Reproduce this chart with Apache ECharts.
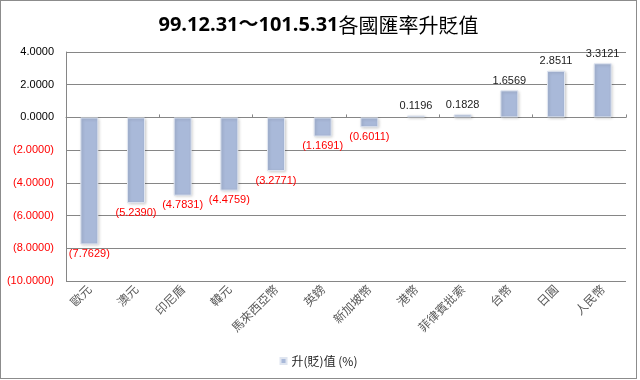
<!DOCTYPE html>
<html>
<head>
<meta charset="utf-8">
<script src="https://cdn.jsdelivr.net/npm/echarts@6/dist/echarts.min.js"></script>
<style>
html,body{margin:0;padding:0;background:#fff;}
#frame{position:absolute;left:0;top:0;width:637px;height:379px;border:1px solid #8c8c8c;box-sizing:border-box;}
#chart{width:635px;height:377px;}
</style>
</head>
<body>
<div id="frame"><div id="chart"></div></div>
<script>
const titleDates = '99.12.31～101.5.31';
const titleWords = '各國匯率升貶值';
const categories = ['歐元','澳元','印尼盾','韓元','馬來西亞幣','英鎊','新加坡幣','港幣','菲律賓批索','台幣','日圓','人民幣'];
const values = [-7.7629,-5.2390,-4.7831,-4.4759,-3.2771,-1.1691,-0.6011,0.1196,0.1828,1.6569,2.8511,3.3121];
const seriesName = '升(貶)值 (%)';
const yMin = -10, yMax = 4, yStep = 2;

function fmt(v){
  const s = Math.abs(v).toFixed(4);
  return v < 0 ? '(' + s + ')' : s;
}
const FONT = '"Liberation Sans","Noto Sans CJK TC",sans-serif';
const CJK = '"Noto Sans CJK TC",sans-serif';
const chart = echarts.init(document.getElementById('chart'));
chart.setOption({
  animation:false,
  textStyle:{fontFamily:FONT},
  title:{text:'{a|'+titleDates+'}{b|'+titleWords+'}',left:'center',top:9,
    textStyle:{rich:{
      a:{fontSize:20,fontWeight:'bold',color:'#000',fontFamily:'"Open Sans","Noto Sans CJK TC",sans-serif'},
      b:{fontSize:20,fontWeight:'normal',color:'#000',fontFamily:CJK}}}},
  legend:{bottom:6,left:'center',icon:'rect',itemWidth:6,itemHeight:6,itemGap:4,
    textStyle:{fontSize:12,color:'#222',fontFamily:CJK},data:[seriesName]},
  grid:{left:65,right:10,top:51,bottom:97},
  xAxis:[
    {type:'category',data:categories,position:'bottom',
     axisLine:{onZero:true,lineStyle:{color:'#868686',width:1}},
     axisTick:{show:true,inside:true,length:3,lineStyle:{color:'#868686'}},
     axisLabel:{show:false},splitLine:{show:false}},
    {type:'category',data:categories,position:'bottom',
     axisLine:{show:false,onZero:false},axisTick:{show:false},
     axisLabel:{rotate:45,margin:6,fontSize:12,color:'#595959',interval:0,fontFamily:CJK}}
  ],
  yAxis:{type:'value',min:yMin,max:yMax,interval:yStep,
    axisLine:{show:true,lineStyle:{color:'#868686'}},axisTick:{show:false},
    splitLine:{lineStyle:{color:'#868686',width:1}},
    axisLabel:{margin:12,fontSize:11,
      formatter:function(v){return v<0?'{n|'+fmt(v)+'}':'{p|'+fmt(v)+'}';},
      rich:{n:{color:'#ff0000',fontSize:11,fontFamily:FONT},p:{color:'#000',fontSize:11,fontFamily:FONT}}}},
  series:[{
    name:seriesName,type:'bar',xAxisIndex:0,barWidth:18,
    itemStyle:{color:'#a9b9d9',borderColor:'#dfe5f0',borderWidth:1,shadowColor:'rgba(0,0,0,0.2)',shadowBlur:3,shadowOffsetX:1,shadowOffsetY:1},
    data:values.map(function(v){
      return {value:v,label:{show:true,position:v<0?'bottom':'top',distance:4,
        color:v<0?'#ff0000':'#222',fontSize:11,fontFamily:FONT,formatter:function(p){return fmt(p.value);}}};
    })
  }]
});
</script>
</body>
</html>
